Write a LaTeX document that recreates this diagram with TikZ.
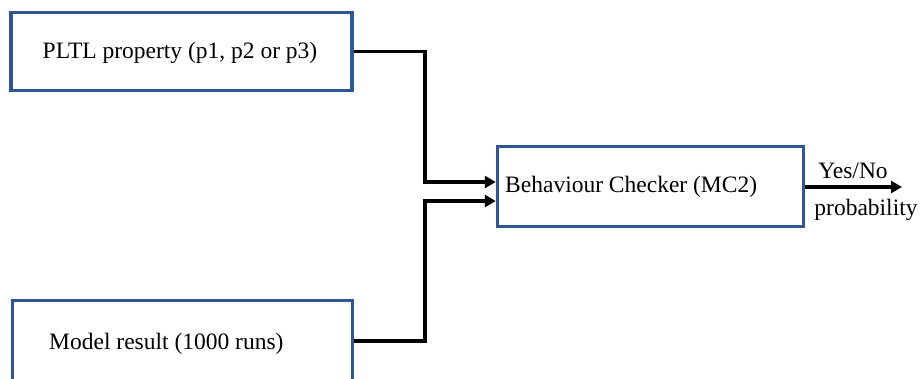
\documentclass[tikz,border=0pt]{standalone}
\usepackage{fontspec}
\setmainfont{Liberation Serif}
\usetikzlibrary{arrows.meta}
\definecolor{boxblue}{RGB}{47,85,151}
\tikzset{
  box/.style={draw=boxblue, line width=3.5pt, fill=white, inner sep=0pt},
  lbl/.style={font=\fontsize{23.5}{28}\selectfont, inner sep=0pt},
  conn/.style={line width=3.5pt, -{Triangle[length=11pt,width=12pt]}},
  wire/.style={line width=3.5pt}
}
\begin{document}
\begin{tikzpicture}[x=1pt,y=-1pt]
\useasboundingbox (0,0) rectangle (920,379);
\clip (0,0) rectangle (920,379);
\node[box, minimum width=341pt, minimum height=78pt] (b1) at (181.5,51.5) {};
\node[lbl] (t1) at (180,53) {PLTL property (p1, p2 or p3)};
\node[box, minimum width=340pt, minimum height=100pt] (b2) at (182.5,350.5) {};
\node[lbl, anchor=west] (t2) at (49,344) {Model result (1000 runs)};
\node[box, minimum width=306pt, minimum height=80pt] (b3) at (650.5,186.5) {};
\node[lbl, anchor=west] (t3) at (505,187) {Behaviour Checker (MC2)};
\coordinate (out) at (902,187);
\node[lbl] (yn) at (853,171) {Yes/No};
\node[lbl] (pr) at (866,210) {probability};
\draw[conn] (b1.east) -- (425,51.5) |- ([yshift=4.5pt]b3.west);
\draw[conn] (b2.east |- 0,341) -- (425,341) |- ([yshift=-14.5pt]b3.west);
\draw[conn] (b3.east |- out) -- (out);
\end{tikzpicture}
\end{document}
